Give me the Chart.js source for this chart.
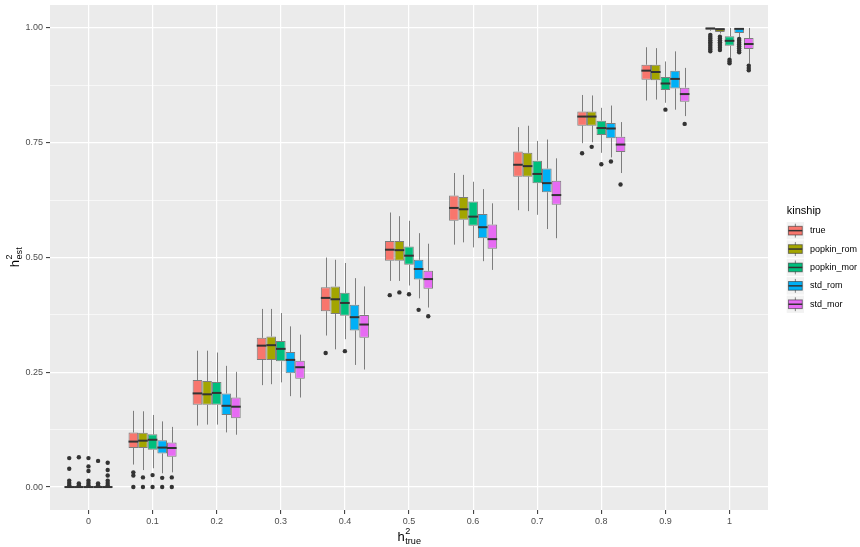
<!DOCTYPE html>
<html>
<head>
<meta charset="utf-8">
<script src="https://cdn.jsdelivr.net/npm/chart.js@4"></script>
<style>
  html, body { margin: 0; padding: 0; background: #fff; }
  #chart { display: block; }
</style>
</head>
<body>
<canvas id="chart" width="860" height="547"></canvas>
<script>
// h2 estimates per true heritability, one box per kinship estimator
const groups = ['0', '0.1', '0.2', '0.3', '0.4', '0.5', '0.6', '0.7', '0.8', '0.9', '1'];
const kinship = ['true', 'popkin_rom', 'popkin_mor', 'std_rom', 'std_mor'];
const colours = ['#F8766D', '#A3A500', '#00BF7D', '#00B0F6', '#E76BF3'];

// rows follow kinship, columns follow groups
const lower = [
    [0, 0.049, 0.134, 0.222, 0.330, 0.449, 0.528, 0.603, 0.749, 0.842, 0.994],
    [0, 0.037, 0.136, 0.224, 0.300, 0.449, 0.533, 0.601, 0.751, 0.844, 0.988],
    [0, 0.041, 0.136, 0.228, 0.322, 0.439, 0.522, 0.593, 0.728, 0.837, 0.935],
    [0, 0.030, 0.119, 0.198, 0.266, 0.411, 0.492, 0.562, 0.718, 0.822, 0.980],
    [0, 0.032, 0.114, 0.195, 0.256, 0.391, 0.473, 0.542, 0.684, 0.808, 0.922]];
const q1 = [
    [0, 0.085, 0.179, 0.277, 0.383, 0.493, 0.580, 0.676, 0.787, 0.887, 0.996],
    [0, 0.085, 0.179, 0.277, 0.377, 0.493, 0.582, 0.676, 0.787, 0.886, 0.991],
    [0, 0.081, 0.179, 0.274, 0.373, 0.484, 0.569, 0.662, 0.767, 0.865, 0.961],
    [0, 0.073, 0.157, 0.248, 0.341, 0.452, 0.542, 0.642, 0.760, 0.868, 0.989],
    [0, 0.066, 0.150, 0.236, 0.325, 0.432, 0.519, 0.615, 0.730, 0.839, 0.954]];
const median = [
    [0, 0.099, 0.204, 0.308, 0.412, 0.517, 0.608, 0.702, 0.807, 0.907, 0.999],
    [0, 0.101, 0.202, 0.309, 0.409, 0.516, 0.605, 0.699, 0.807, 0.904, 0.997],
    [0, 0.103, 0.205, 0.301, 0.401, 0.504, 0.589, 0.682, 0.782, 0.879, 0.972],
    [0, 0.086, 0.177, 0.277, 0.370, 0.475, 0.566, 0.662, 0.781, 0.889, 0.998],
    [0, 0.085, 0.175, 0.261, 0.354, 0.453, 0.540, 0.636, 0.746, 0.856, 0.965]];
const q3 = [
    [0, 0.119, 0.233, 0.325, 0.435, 0.536, 0.635, 0.731, 0.818, 0.920, 1.000],
    [0, 0.118, 0.231, 0.328, 0.437, 0.536, 0.632, 0.728, 0.818, 0.920, 1.000],
    [0, 0.115, 0.229, 0.318, 0.423, 0.524, 0.622, 0.711, 0.798, 0.893, 0.982],
    [0, 0.102, 0.204, 0.294, 0.397, 0.495, 0.595, 0.694, 0.793, 0.907, 1.000],
    [0, 0.097, 0.195, 0.275, 0.375, 0.471, 0.572, 0.667, 0.763, 0.870, 0.978]];
const upper = [
    [0, 0.166, 0.297, 0.388, 0.500, 0.598, 0.684, 0.784, 0.854, 0.958, 1.000],
    [0, 0.165, 0.297, 0.388, 0.495, 0.590, 0.680, 0.787, 0.853, 0.956, 1.000],
    [0, 0.157, 0.293, 0.379, 0.488, 0.580, 0.665, 0.754, 0.826, 0.927, 1.000],
    [0, 0.143, 0.264, 0.350, 0.455, 0.553, 0.649, 0.757, 0.831, 0.949, 1.000],
    [0, 0.131, 0.251, 0.332, 0.437, 0.530, 0.618, 0.716, 0.795, 0.913, 1.000]];

// outlying estimates as [group index, value]
const outliers = [
    [[0, 0.063], [0, 0.040], [0, 0.014], [0, 0.009], [0, 0.004], [1, 0.032], [1, 0.025], [1, 0],
     [4, 0.292], [5, 0.418], [8, 0.727],
     [10, 0.985], [10, 0.981], [10, 0.977], [10, 0.973], [10, 0.969], [10, 0.965], [10, 0.961],
     [10, 0.957], [10, 0.953], [10, 0.949]],
    [[0, 0.065], [0, 0.008], [0, 0.004], [1, 0.021], [1, 0],
     [5, 0.424], [8, 0.741],
     [10, 0.981], [10, 0.977], [10, 0.973], [10, 0.969], [10, 0.965], [10, 0.961], [10, 0.957], [10, 0.952]],
    [[0, 0.063], [0, 0.045], [0, 0.035], [0, 0.014], [0, 0.009], [0, 0.004], [1, 0.026], [1, 0],
     [4, 0.296], [5, 0.420], [8, 0.703], [9, 0.822],
     [10, 0.931], [10, 0.927], [10, 0.923]],
    [[0, 0.057], [0, 0.008], [0, 0.004], [1, 0.020], [1, 0],
     [5, 0.386], [8, 0.709],
     [10, 0.976], [10, 0.972], [10, 0.968], [10, 0.964], [10, 0.960], [10, 0.956], [10, 0.951], [10, 0.947]],
    [[0, 0.053], [0, 0.037], [0, 0.025], [0, 0.014], [0, 0.009], [0, 0.004], [1, 0.021], [1, 0],
     [5, 0.372], [8, 0.659], [9, 0.791],
     [10, 0.918], [10, 0.913], [10, 0.908]]];

const yMajor = [0, 0.25, 0.5, 0.75, 1];

const FONT = '"Liberation Sans", Arial, sans-serif';
const OUTLINE = 'rgba(51, 51, 51, 0.6)';

// draws h with a stacked superscript 2 and a subscript
function mathLabel(ctx, sub, cx, cy, size) {
    const small = size * 0.7;
    ctx.font = size + 'px ' + FONT;
    const wh = ctx.measureText('h').width;
    ctx.font = small + 'px ' + FONT;
    const ws = Math.max(ctx.measureText('2').width, ctx.measureText(sub).width);
    const x0 = cx - (wh + ws) / 2;
    const base = cy + size * 0.35;
    ctx.fillStyle = '#000';
    ctx.textBaseline = 'alphabetic';
    ctx.textAlign = 'left';
    ctx.font = size + 'px ' + FONT;
    ctx.fillText('h', x0, base);
    ctx.font = small + 'px ' + FONT;
    ctx.fillText('2', x0 + wh + 0.5, base - size * 0.5);
    ctx.fillText(sub, x0 + wh + 0.5, base + size * 0.3);
}

const boxParts = {
    id: 'boxParts',
    beforeDraw(chart) {
        const {ctx, chartArea: a} = chart;
        ctx.save();
        ctx.fillStyle = '#EBEBEB';
        ctx.fillRect(a.left, a.top, a.right - a.left, a.bottom - a.top);
        ctx.restore();
    },
    afterDatasetsDraw(chart) {
        const ctx = chart.ctx;
        const y = chart.scales.y;
        ctx.save();
        kinship.forEach((k, s) => {
            const meta = chart.getDatasetMeta(s);
            meta.data.forEach((bar, i) => {
                const x = Math.round(bar.x) + 0.5;
                const half = bar.width / 2;
                ctx.strokeStyle = OUTLINE;
                ctx.lineWidth = 1;
                ctx.beginPath();
                ctx.moveTo(x, y.getPixelForValue(upper[s][i]));
                ctx.lineTo(x, y.getPixelForValue(q3[s][i]));
                ctx.moveTo(x, y.getPixelForValue(q1[s][i]));
                ctx.lineTo(x, y.getPixelForValue(lower[s][i]));
                ctx.stroke();
                const ym = y.getPixelForValue(median[s][i]);
                ctx.strokeStyle = '#333333';
                ctx.lineWidth = 2;
                ctx.beginPath();
                ctx.moveTo(bar.x - half, ym);
                ctx.lineTo(bar.x + half, ym);
                ctx.stroke();
            });
            ctx.fillStyle = '#333333';
            outliers[s].forEach(([i, v]) => {
                const bar = meta.data[i];
                ctx.beginPath();
                ctx.arc(bar.x, y.getPixelForValue(v), 2.2, 0, Math.PI * 2);
                ctx.fill();
            });
        });
        ctx.restore();
    },
    afterDraw(chart) {
        const {ctx, chartArea: a} = chart;
        ctx.save();
        // axis titles
        mathLabel(ctx, 'true', (a.left + a.right) / 2, 536, 13);
        ctx.save();
        ctx.translate(14, (a.top + a.bottom) / 2);
        ctx.rotate(-Math.PI / 2);
        mathLabel(ctx, 'est', 0, 0, 13);
        ctx.restore();

        // legend
        const kx = 786.7, ky = 222, step = 18.4, key = 17.3;
        ctx.fillStyle = '#000';
        ctx.font = '11px ' + FONT;
        ctx.textAlign = 'left';
        ctx.textBaseline = 'middle';
        ctx.fillText('kinship', kx, 211);
        kinship.forEach((k, s) => {
            const top = ky + s * step;
            const cx = kx + key / 2;
            ctx.fillStyle = '#F2F2F2';
            ctx.fillRect(kx, top, key, key);
            ctx.strokeStyle = OUTLINE;
            ctx.lineWidth = 1;
            ctx.beginPath();
            ctx.moveTo(cx, top + key * 0.1);
            ctx.lineTo(cx, top + key * 0.9);
            ctx.stroke();
            ctx.fillStyle = colours[s];
            ctx.fillRect(kx + key * 0.1, top + key * 0.25, key * 0.8, key * 0.5);
            ctx.strokeRect(kx + key * 0.1, top + key * 0.25, key * 0.8, key * 0.5);
            ctx.strokeStyle = '#333333';
            ctx.lineWidth = 1.5;
            ctx.beginPath();
            ctx.moveTo(kx + key * 0.1, top + key / 2);
            ctx.lineTo(kx + key * 0.9, top + key / 2);
            ctx.stroke();
            ctx.fillStyle = '#000';
            ctx.font = '9px ' + FONT;
            ctx.fillText(k, 810, top + key / 2);
        });
        ctx.restore();
    }
};

const datasets = kinship.map((k, s) => ({
    label: k,
    data: groups.map((g, i) => ({x: i, y: [q1[s][i], q3[s][i]]})),
    backgroundColor: colours[s],
    borderColor: OUTLINE,
    borderWidth: 1,
    borderSkipped: false,
    categoryPercentage: 0.75,
    barPercentage: 1
}));

const isMajor = v => yMajor.some(m => Math.abs(m - v) < 1e-9);

new Chart(document.getElementById('chart'), {
    type: 'bar',
    data: {datasets: datasets},
    plugins: [boxParts],
    options: {
        responsive: false,
        animation: false,
        layout: {padding: {top: 5, right: 92, left: 0, bottom: 0}},
        plugins: {legend: {display: false}, tooltip: {enabled: false}},
        scales: {
            x: {
                type: 'linear',
                min: -0.6,
                max: 10.6,
                offset: false,
                afterBuildTicks: s => { s.ticks = groups.map((g, i) => ({value: i})); },
                afterFit: s => { s.height = 37; s.paddingLeft = 0; s.paddingRight = 0; },
                border: {display: false},
                grid: {offset: false, color: '#FFFFFF', lineWidth: 1.2, tickColor: '#333333', tickWidth: 1, tickLength: 4},
                ticks: {
                    autoSkip: false, maxRotation: 0, padding: 2,
                    color: '#4D4D4D', font: {family: FONT, size: 9},
                    callback: v => groups[v]
                }
            },
            y: {
                min: -0.05,
                max: 1.05,
                afterBuildTicks: s => {
                    const t = [];
                    for (let i = 0; i < yMajor.length; i++) {
                        t.push({value: yMajor[i]});
                        if (i < yMajor.length - 1) t.push({value: (yMajor[i] + yMajor[i + 1]) / 2});
                    }
                    s.ticks = t;
                },
                afterFit: s => { s.width = 50; s.paddingTop = 0; s.paddingBottom = 0; },
                border: {display: false},
                grid: {
                    color: '#FFFFFF',
                    lineWidth: c => isMajor(c.tick.value) ? 1.2 : 0.6,
                    tickColor: c => isMajor(c.tick.value) ? '#333333' : 'rgba(0,0,0,0)',
                    tickWidth: 1,
                    tickLength: 4
                },
                ticks: {
                    padding: 3,
                    color: '#4D4D4D', font: {family: FONT, size: 9},
                    callback: v => isMajor(v) ? v.toFixed(2) : ''
                }
            }
        }
    }
});
</script>
</body>
</html>
